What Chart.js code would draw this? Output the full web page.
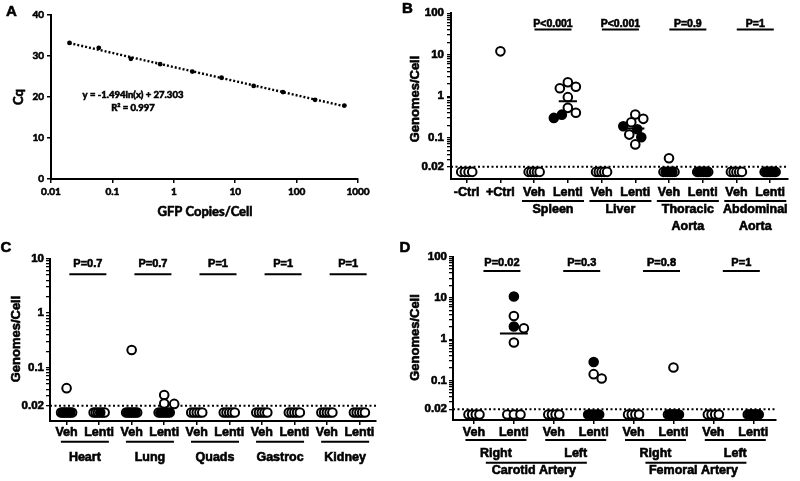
<!DOCTYPE html>
<html>
<head>
<meta charset="utf-8">
<script src="https://cdn.jsdelivr.net/npm/chart.js@4.4.0/dist/chart.umd.min.js"></script>
<style>
  html, body { margin: 0; padding: 0; background: #fff; }
  #wrap { position: relative; width: 800px; height: 481px; overflow: hidden; }
  canvas { position: absolute; }
</style>
</head>
<body>
<div id="wrap">
  <canvas id="cA" width="400" height="240" style="left:0;top:0;width:400px;height:240px"></canvas>
  <canvas id="cB" width="400" height="240" style="left:400px;top:0;width:400px;height:240px"></canvas>
  <canvas id="cC" width="400" height="241" style="left:0;top:240px;width:400px;height:241px"></canvas>
  <canvas id="cD" width="400" height="241" style="left:400px;top:240px;width:400px;height:241px"></canvas>
</div>
<script>
// ---- panel A: standard curve ----
const stdCopies = [0.02, 0.06, 0.2, 0.6, 2, 6, 20, 60, 200, 600];
const stdCq = [33.2, 32.0, 29.3, 28.0, 26.2, 24.7, 22.7, 21.2, 19.3, 17.9];
const fitX = [0.02, 600];
const fitY = [33.15, 17.75];
const aTicksX = [0.01, 0.1, 1, 10, 100, 1000];
const aTickLabelsX = ['0.01', '0.1', '1', '10', '100', '1000'];
const aTicksY = [0, 10, 20, 30, 40];

// ---- shared ----
const LOD = 0.02;     // detection limit (dotted line)
const ND = 0.015;     // not detected, plotted below the limit
const yTicks = [0.02, 0.1, 1, 10, 100];
const yTickLabels = ['0.02', '0.1', '1', '10', '100'];

// ---- panel B ----
const bCats = ['-Ctrl', '+Ctrl', 'Veh', 'Lenti', 'Veh', 'Lenti', 'Veh', 'Lenti', 'Veh', 'Lenti'];
const bOpen = [
  [ND, ND, ND, ND],
  [12.1],
  [ND, ND, ND, ND, ND],
  [2.17, 1.69, 1.56, 0.95, 0.525, 0.40],
  [ND, ND, ND, ND, ND],
  [0.362, 0.285, 0.236, 0.119, 0.069],
  [0.032, ND, ND, ND, ND],
  [ND, ND, ND, ND, ND],
  [ND, ND, ND, ND, ND],
  [ND, ND, ND, ND, ND]
];
const bFilled = [[], [], [], [0.36, 0.30], [], [0.189, 0.16, 0.103], [ND, ND], [ND, ND, ND], [], [ND, ND, ND]];
const bMedian = [null, null, null, 0.76, null, 0.167, null, null, null, null];
const bP = ['P<0.001', 'P<0.001', 'P=0.9', 'P=1'];
const bPairs = [2, 4, 6, 8];
const bGroups = [['Spleen'], ['Liver'], ['Thoracic', 'Aorta'], ['Abdominal', 'Aorta']];

// ---- panel C ----
const cCats = ['Veh', 'Lenti', 'Veh', 'Lenti', 'Veh', 'Lenti', 'Veh', 'Lenti', 'Veh', 'Lenti'];
const cOpen = [
  [0.042, ND, ND, ND, ND, ND],
  [ND, ND, ND, ND, ND],
  [0.21, ND, ND, ND, ND, ND],
  [0.0315, 0.022, 0.0216, ND, ND, ND],
  [ND, ND, ND, ND, ND],
  [ND, ND, ND, ND, ND],
  [ND, ND, ND, ND, ND],
  [ND, ND, ND, ND, ND],
  [ND, ND, ND, ND, ND],
  [ND, ND, ND, ND, ND]
];
const cFilled = [[ND, ND], [ND], [ND, ND], [ND, ND, ND], [], [], [], [], [], []];
const cMedian = [null, null, null, 0.015, null, null, null, null, null, null];
const cP = ['P=0.7', 'P=0.7', 'P=1', 'P=1', 'P=1'];
const cPairs = [0, 2, 4, 6, 8];
const cGroups = [['Heart'], ['Lung'], ['Quads'], ['Gastroc'], ['Kidney']];

// ---- panel D ----
const dCats = ['Veh', 'Lenti', 'Veh', 'Lenti', 'Veh', 'Lenti', 'Veh', 'Lenti'];
const dOpen = [
  [ND, ND, ND, ND],
  [3.66, 1.85, 0.83, ND, ND, ND],
  [ND, ND, ND, ND],
  [0.142, 0.112, ND, ND],
  [ND, ND, ND, ND],
  [0.206, ND, ND, ND, ND],
  [ND, ND, ND, ND],
  [ND, ND, ND, ND]
];
const dFilled = [[], [10.8, 2.03], [], [0.28, ND, ND, ND], [], [ND, ND, ND, ND], [], [ND, ND, ND, ND]];
const dMedian = [null, 1.37, null, null, null, null, null, null];
const dP = ['P=0.02', 'P=0.3', 'P=0.8', 'P=1'];
const dPairs = [0, 2, 4, 6];
const dSides = [['Right'], ['Left'], ['Right'], ['Left']];
const dVessels = ['Carotid Artery', 'Femoral Artery'];

const F = '"Liberation Sans", Arial, Helvetica, sans-serif';
const FA = 'Lato, "Open Sans", sans-serif';
const bold = (s, fam) => 'bold ' + s + 'px ' + (fam || F);
const heavy = { textStrokeWidth: 0.6, textStrokeColor: '#000' };

// spread points of one column so circles don't sit on top of each other
function arrange(open, filled, ppd, ppu) {
  const out = { open: [], filled: [] };
  open.forEach((vals, i) => {
    const items = vals.map(v => ({ v, f: false })).concat(filled[i].map(v => ({ v, f: true })));
    const hit = items.filter(p => p.v > LOD).sort((a, b) => b.v - a.v);
    const nd = items.filter(p => p.v <= LOD);
    const placed = [];
    hit.forEach(p => {
      const py = Math.log10(p.v) * ppd;
      let dx = 0;
      for (let k = 0; k < 40; k++) {
        const c = Math.ceil(k / 2) * 2 * (k % 2 ? 1 : -1);
        if (placed.every(q => Math.hypot(q.dx - c, q.py - py) >= 8.5)) { dx = c; break; }
      }
      placed.push({ dx, py });
      p.dx = dx;
    });
    const nO = nd.filter(p => !p.f).length, nF = nd.length - nO;
    let ko = 0, kf = 0;
    nd.forEach(p => { p.key = p.f ? (kf++ + 0.5) / nF : (ko++ + 0.5) / nO; });
    nd.sort((a, b) => a.key - b.key);
    const n = nd.length;
    const step = n > 1 ? (n <= 3 ? 6.6 : 11 / (n - 1)) : 0;
    nd.forEach((p, k) => { p.dx = (k - (n - 1) / 2) * step; });
    hit.concat(nd).forEach(p => {
      (p.f ? out.filled : out.open).push({ x: i + p.dx / ppu, y: p.v });
    });
  });
  return out;
}

const logTicks = (min, max) => {
  const t = [];
  for (let e = -2; e <= 2; e++) for (let m = 1; m <= 9; m++) {
    const v = +(m * Math.pow(10, e)).toPrecision(3);
    if (v >= min && v <= max + 1e-9) t.push({ value: v, major: m === 1 });
  }
  return t;
};
const yLabel = v => {
  const k = yTicks.findIndex(t => Math.abs(t - v) / t < 1e-6);
  return k < 0 ? '' : yTickLabels[k];
};

function hline(ctx, x0, x1, y) {
  ctx.beginPath(); ctx.moveTo(x0, y); ctx.lineTo(x1, y); ctx.stroke();
}
function txt(ctx, s, x, y) {
  const lw = ctx.lineWidth;
  ctx.lineWidth = 0.6;
  ctx.strokeText(s, x, y);
  ctx.fillText(s, x, y);
  ctx.lineWidth = lw;
}

function makeDeco(lay, extra) {
  return {
    id: 'deco',
    afterDraw(chart) {
      const ctx = chart.ctx, xs = chart.scales.x;
      ctx.save();
      ctx.fillStyle = '#000'; ctx.strokeStyle = '#000';
      ctx.textAlign = 'center'; ctx.textBaseline = 'middle';
      ctx.font = bold(15);
      txt(ctx, lay.letter[0], lay.letter[1], lay.letter[2]);
      ctx.save();
      ctx.translate(lay.yTitle[1], lay.yTitle[2]);
      ctx.rotate(-Math.PI / 2);
      ctx.font = lay.titleFont || bold(13);
      txt(ctx, lay.yTitle[0], 0, 0);
      ctx.restore();
      if (extra) extra(ctx, xs);
      ctx.restore();
    }
  };
}

function pBars(ctx, xs, starts, labels, lay) {
  ctx.lineWidth = 2;
  ctx.font = bold(lay.pFont);
  ctx.textBaseline = 'alphabetic';
  starts.forEach((s, k) => {
    const cx = xs.getPixelForValue(s + 0.5) + lay.pShift;
    hline(ctx, cx - 18.5, cx + 18.5, lay.pLineY);
    txt(ctx, labels[k], cx, lay.pTextY);
  });
}

function underGroups(ctx, xs, starts, groups, lay) {
  ctx.lineWidth = 2;
  ctx.font = bold(12.5);
  ctx.textBaseline = 'middle';
  starts.forEach((s, k) => {
    const cx = xs.getPixelForValue(s + 0.5) + 2;
    hline(ctx, cx - lay.uw / 2, cx + lay.uw / 2, lay.uLineY);
    groups[k].forEach((t, j) => txt(ctx, t, cx, lay.gTextY + j * 17));
  });
}

function swarm(id, cats, open, filled, medians, lay, extra) {
  const pts = arrange(open, filled, lay.ppd, lay.ppu);
  const ds = [];
  medians.forEach((m, i) => {
    if (m != null) ds.push({ type: 'line', data: [{ x: i - lay.mh, y: m }, { x: i + lay.mh, y: m }],
      borderColor: '#000', borderWidth: 2, pointRadius: 0 });
  });
  ds.push({ data: pts.filled, backgroundColor: '#000', borderColor: '#000', pointRadius: 4.3, pointBorderWidth: 2 });
  ds.push({ data: pts.open, backgroundColor: '#fff', borderColor: '#000', pointRadius: 4.3, pointBorderWidth: 2 });
  ds.push({ type: 'line', data: [{ x: lay.xMin, y: LOD }, { x: lay.xMax, y: LOD }],
    borderColor: '#000', borderWidth: 2, borderDash: [2, 2.5], pointRadius: 0 });

  return new Chart(document.getElementById(id), {
    type: 'scatter',
    data: { datasets: ds },
    plugins: [makeDeco(lay, extra)],
    options: {
      responsive: false, animation: false, events: [],
      layout: { padding: { left: 0, top: lay.top, right: lay.W - lay.right, bottom: 0 } },
      plugins: { legend: { display: false }, tooltip: { enabled: false } },
      scales: {
        x: {
          type: 'linear', min: lay.xMin, max: lay.xMax,
          afterBuildTicks: s => { s.ticks = cats.map((c, i) => ({ value: i })); },
          afterFit: s => { s.height = lay.H - lay.bottom; },
          ticks: Object.assign({ callback: v => cats[Math.round(v)], autoSkip: false, maxRotation: 0, minRotation: 0,
            color: '#000', padding: lay.xPad, font: { family: F, size: 12.5, weight: 'bold' } }, heavy),
          grid: { drawOnChartArea: false, tickLength: 4, color: '#000', lineWidth: 1.5 },
          border: { display: true, color: '#000', width: 2 }
        },
        y: {
          type: 'logarithmic', min: lay.yMin, max: lay.yMax,
          afterBuildTicks: s => { s.ticks = logTicks(lay.yMin, lay.yMax); },
          afterFit: s => { s.width = lay.left; },
          ticks: Object.assign({ callback: v => yLabel(v), autoSkip: false, color: '#000', padding: lay.yPad,
            font: { family: F, size: 11.5, weight: 'bold' } }, heavy),
          grid: { drawOnChartArea: false, tickLength: 4, color: '#000', lineWidth: 1.3 },
          border: { display: true, color: '#000', width: 2 }
        }
      }
    }
  });
}

// ---- A ----
new Chart(document.getElementById('cA'), {
  type: 'scatter',
  data: {
    datasets: [
      { data: stdCopies.map((x, i) => ({ x, y: stdCq[i] })), backgroundColor: '#000', borderColor: '#000',
        pointRadius: 2.4, pointBorderWidth: 0 },
      { type: 'line', data: fitX.map((x, i) => ({ x, y: fitY[i] })), borderColor: '#000', borderWidth: 2.4,
        borderDash: [2, 2], pointRadius: 0 }
    ]
  },
  plugins: [makeDeco({ letter: ['A', 11.5, 11.5], yTitle: ['Cq', 19, 97], titleFont: bold(13, FA) }, (ctx) => {
    ctx.font = bold(13, FA);
    txt(ctx, 'GFP Copies/Cell', 205, 212);
    ctx.font = bold(9.5, FA);
    txt(ctx, 'y = -1.494ln(x) + 27.303', 133, 94.5);
    txt(ctx, 'R\u00b2 = 0.997', 133, 108);
  })],
  options: {
    responsive: false, animation: false, events: [],
    layout: { padding: { left: 0, top: 15, right: 42, bottom: 0 } },
    plugins: { legend: { display: false }, tooltip: { enabled: false } },
    scales: {
      x: {
        type: 'logarithmic', min: 0.01, max: 1000,
        afterBuildTicks: s => { s.ticks = aTicksX.map(v => ({ value: v })); },
        afterFit: s => { s.height = 240 - 179; },
        ticks: Object.assign({ callback: v => aTickLabelsX[aTicksX.findIndex(t => Math.abs(t - v) / t < 1e-6)] || '',
          autoSkip: false, maxRotation: 0, color: '#000', padding: 3, font: { family: FA, size: 10, weight: 'bold' } }, heavy),
        grid: { drawOnChartArea: false, tickLength: 4, color: '#000', lineWidth: 1.5 },
        border: { display: true, color: '#000', width: 2 }
      },
      y: {
        min: 0, max: 40,
        afterBuildTicks: s => { s.ticks = aTicksY.map(v => ({ value: v })); },
        afterFit: s => { s.width = 51; },
        ticks: Object.assign({ autoSkip: false, color: '#000', padding: 3, font: { family: FA, size: 10, weight: 'bold' } }, heavy),
        grid: { drawOnChartArea: false, tickLength: 4, color: '#000', lineWidth: 1.5 },
        border: { display: true, color: '#000', width: 2 }
      }
    }
  }
});

// ---- B ----
const layB = { W: 400, H: 240, left: 51, right: 388, top: 13.3, bottom: 179, xMin: -0.466, xMax: 9.53,
  yMin: 0.0101, yMax: 100, ppd: 41.5, ppu: 33.7, xPad: 2, yPad: 3, mh: 0.27,
  letter: ['B', 7.5, 9], yTitle: ['Genomes/Cell', 15, 99],
  pFont: 10.5, pShift: 2, pLineY: 29.5, pTextY: 27.3, uw: 62, uLineY: 201, gTextY: 209.3 };
swarm('cB', bCats, bOpen, bFilled, bMedian, layB, (ctx, xs) => {
  pBars(ctx, xs, bPairs, bP, layB);
  underGroups(ctx, xs, bPairs, bGroups, layB);
});

// ---- C ----
const layC = { W: 400, H: 241, left: 50, right: 376, top: 18.5, bottom: 181, xMin: -0.51, xMax: 9.51,
  yMin: 0.0105, yMax: 10, ppd: 54.6, ppu: 32.5, xPad: 0, yPad: 2, mh: 0.32,
  letter: ['C', 6, 8.3], yTitle: ['Genomes/Cell', 16, 99],
  pFont: 11, pShift: 5, pLineY: 34.3, pTextY: 27.3, uw: 48, uLineY: 201.7, gTextY: 217.5 };
swarm('cC', cCats, cOpen, cFilled, cMedian, layC, (ctx, xs) => {
  pBars(ctx, xs, cPairs, cP, layC);
  underGroups(ctx, xs, cPairs, cGroups, layC);
});

// ---- D ----
const layD = { W: 400, H: 241, left: 53, right: 376, top: 16.7, bottom: 180, xMin: -0.526, xMax: 7.57,
  yMin: 0.011, yMax: 100, ppd: 41.25, ppu: 39.9, xPad: 1, yPad: 2, mh: 0.35,
  letter: ['D', 5, 8.3], yTitle: ['Genomes/Cell', 15, 97.5],
  pFont: 11, pShift: 8, pLineY: 31, pTextY: 26, uw: 61, uLineY: 200, gTextY: 214 };
swarm('cD', dCats, dOpen, dFilled, dMedian, layD, (ctx, xs) => {
  pBars(ctx, xs, dPairs, dP, layD);
  underGroups(ctx, xs, dPairs, dSides, layD);
  ctx.lineWidth = 2;
  ctx.font = bold(12.5);
  ctx.textBaseline = 'middle';
  [0, 4].forEach((s, k) => {
    const cx = (xs.getPixelForValue(s) + xs.getPixelForValue(s + 3)) / 2;
    hline(ctx, cx + 2.5 - 50.5, cx + 2.5 + 50.5, 222.7);
    txt(ctx, dVessels[k], cx, 231);
  });
});
</script>
</body>
</html>
